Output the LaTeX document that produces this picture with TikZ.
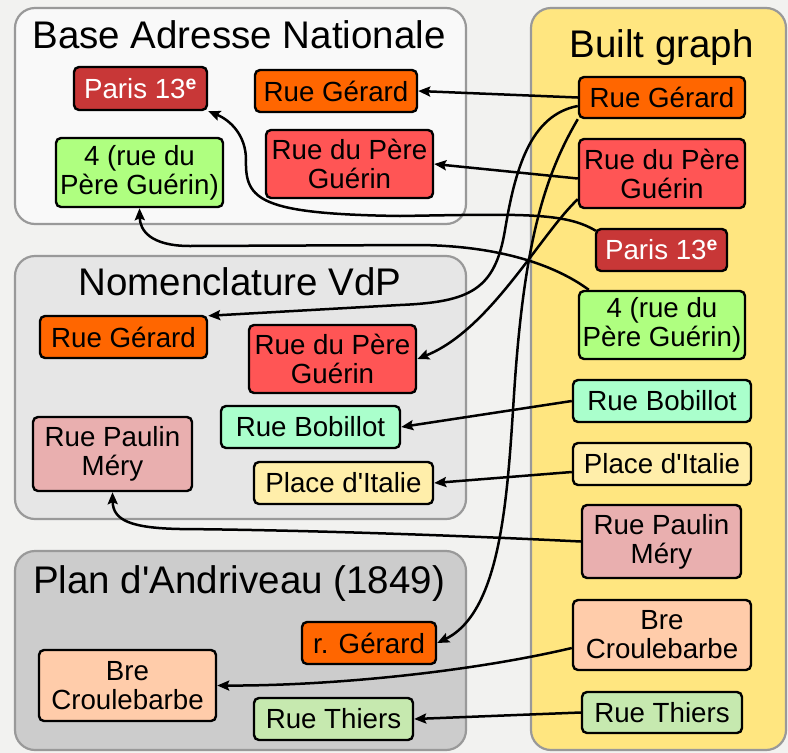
\documentclass[tikz,border=0pt]{standalone}
\usepackage{fontspec}
\setmainfont{Liberation Sans}[Ligatures=TeXOff]
\usetikzlibrary{arrows.meta}
\definecolor{bgc}{HTML}{F2F2F0}
\definecolor{panelborder}{HTML}{999999}
\definecolor{banfill}{HTML}{F9F9F9}
\definecolor{nomfill}{HTML}{E6E6E6}
\definecolor{planfill}{HTML}{CCCCCC}
\definecolor{graphfill}{HTML}{FFE680}
\definecolor{cParis}{HTML}{C83737}
\definecolor{cGerard}{HTML}{FF6600}
\definecolor{cPere}{HTML}{FF5555}
\definecolor{cNum}{HTML}{AFFF80}
\definecolor{cBob}{HTML}{AAFFCC}
\definecolor{cItalie}{HTML}{FFEEAA}
\definecolor{cPaulin}{HTML}{E9AFAF}
\definecolor{cBre}{HTML}{FFCCAA}
\definecolor{cThiers}{HTML}{C6E9AF}
\begin{document}
\begin{tikzpicture}[x=1pt,y=-1pt,
  panel/.style={draw=panelborder, line width=2.2pt, rounded corners=20pt},
  ptitle/.style={anchor=base, font=\fontsize{38.5}{40}\selectfont, inner sep=0pt},
  box/.style={draw=black, line width=2.4pt, rounded corners=5pt, inner sep=0pt,
    align=center, font=\fontsize{27.7}{29}\selectfont, text=black},
  arr/.style={line width=2.5pt, draw=black, -{Stealth[length=12pt,width=10pt,inset=2pt]}}
]
\fill[bgc] (0,0) rectangle (788,753);
\useasboundingbox (0,0) rectangle (788,753);

% panels
\draw[panel, fill=banfill] (15,8) rectangle (466,224);
\draw[panel, fill=nomfill] (15,256) rectangle (466,519);
\draw[panel, fill=planfill] (15,551) rectangle (466,750);
\draw[panel, fill=graphfill] (531,8) rectangle (786,750);

\node[ptitle] (tBan) at (239,48) {Base Adresse Nationale};
\node[ptitle] (tGraph) at (661.5,57) {Built graph};
\node[ptitle] (tNom) at (240,295) {Nomenclature VdP};
\node[ptitle] (tPlan) at (239,593) {Plan d'Andriveau (1849)};

% Base Adresse Nationale
\node[box, fill=cParis, text=white, minimum width=133pt, minimum height=43pt] (banParis) at (140.5,88.5) {Paris 13\textsuperscript{\bfseries e}};
\node[box, fill=cGerard, minimum width=162pt, minimum height=42pt] (banGerard) at (336,91) {Rue Gérard};
\node[box, fill=cPere, minimum width=167pt, minimum height=68pt] (banPere) at (349.5,164) {Rue du Père\\Guérin};
\node[box, fill=cNum, minimum width=167pt, minimum height=69pt] (banNum) at (139.5,172.5) {4 (rue du\\Père Guérin)};

% Built graph
\node[box, fill=cGerard, minimum width=166pt, minimum height=41pt] (bgGerard) at (662,97.5) {Rue Gérard};
\node[box, fill=cPere, minimum width=166pt, minimum height=69pt] (bgPere) at (662,173.5) {Rue du Père\\Guérin};
\node[box, fill=cParis, text=white, minimum width=131pt, minimum height=42pt] (bgParis) at (661.5,250) {Paris 13\textsuperscript{\bfseries e}};
\node[box, fill=cNum, minimum width=166pt, minimum height=68pt] (bgNum) at (662,325) {4 (rue du\\Père Guérin)};
\node[box, fill=cBob, minimum width=178pt, minimum height=42pt] (bgBob) at (662,401) {Rue Bobillot};
\node[box, fill=cItalie, minimum width=178pt, minimum height=42pt] (bgItalie) at (662,464) {Place d'Italie};
\node[box, fill=cPaulin, minimum width=159pt, minimum height=73pt] (bgPaulin) at (661.5,541.5) {Rue Paulin\\Méry};
\node[box, fill=cBre, minimum width=178pt, minimum height=70pt] (bgBre) at (662,635) {Bre\\Croulebarbe};
\node[box, fill=cThiers, minimum width=160pt, minimum height=41pt] (bgThiers) at (662,712.5) {Rue Thiers};

% Nomenclature VdP
\node[box, fill=cGerard, minimum width=167pt, minimum height=42pt] (nomGerard) at (123.5,337) {Rue Gérard};
\node[box, fill=cPere, minimum width=167pt, minimum height=68pt] (nomPere) at (332.5,359) {Rue du Père\\Guérin};
\node[box, fill=cBob, minimum width=179pt, minimum height=42pt] (nomBob) at (310.5,427) {Rue Bobillot};
\node[box, fill=cItalie, minimum width=179pt, minimum height=42pt] (nomItalie) at (343.5,483) {Place d'Italie};
\node[box, fill=cPaulin, minimum width=159pt, minimum height=74pt] (nomPaulin) at (112.5,454) {Rue Paulin\\Méry};

% Plan d'Andriveau
\node[box, fill=cGerard, minimum width=134pt, minimum height=42pt] (plGerard) at (369,643) {r. Gérard};
\node[box, fill=cBre, minimum width=177pt, minimum height=71pt] (plBre) at (127.5,685.5) {Bre\\Croulebarbe};
\node[box, fill=cThiers, minimum width=159pt, minimum height=42pt] (plThiers) at (333.5,719) {Rue Thiers};

% connectors
\draw[arr] (bgGerard.west) -- (banGerard.east);
\draw[arr] ([yshift=-5pt]bgPere.west) -- (banPere.east);
\draw[arr] ([xshift=1pt,yshift=-3pt]bgParis.north west) .. controls (565,212) and (520,214) .. (400,216)
  .. controls (260,214) and (245,200) .. (246,160) .. controls (246,135) and (230,120) .. (banParis.south east);
\draw[arr] ([xshift=11pt]bgNum.north west) .. controls (555,265) and (500,246) .. (420,245)
  -- (190,246) .. controls (150,246) and (140,230) .. (banNum.south);
\draw[arr] ([yshift=-8.5pt]bgGerard.west) .. controls (530,115) and (515,170) .. (505,230)
  .. controls (495,290) and (470,302) .. (400,305) -- ([yshift=-1pt]nomGerard.north east);
\draw[arr] ([yshift=10pt]bgPere.south west) .. controls (540,235) and (490,330) .. (nomPere.east);
\draw[arr] (bgBob.west) -- (nomBob.east);
\draw[arr] ([yshift=-8pt]bgItalie.west) -- (nomItalie.east);
\draw[arr] (bgPaulin.west) .. controls (450,535) and (300,530) .. (180,529)
  .. controls (130,528) and (113,520) .. (nomPaulin.south);
\draw[arr] (bgGerard.south west) .. controls (545,175) and (525,240) .. (515,380)
  .. controls (508,480) and (505,610) .. (plGerard.east);
\draw[arr] ([yshift=-13pt]bgBre.west) .. controls (470,672) and (330,686) .. (plBre.east);
\draw[arr] (bgThiers.west) -- (plThiers.east);
\end{tikzpicture}
\end{document}
